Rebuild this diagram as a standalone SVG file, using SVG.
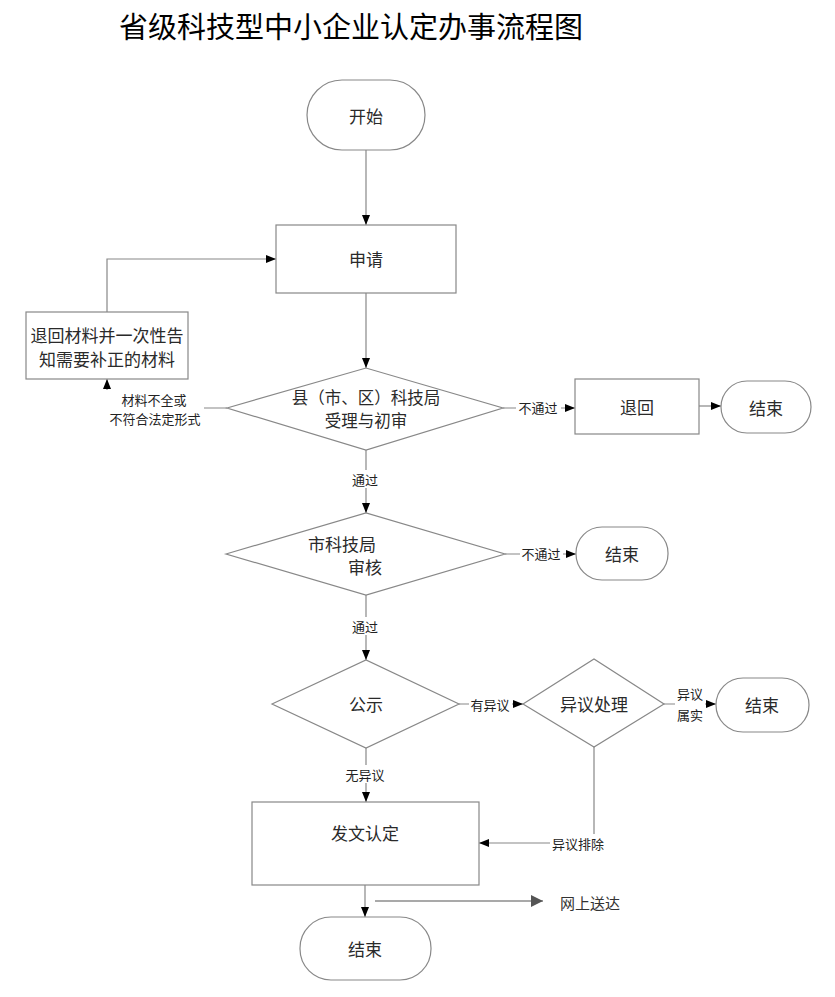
<svg xmlns="http://www.w3.org/2000/svg" width="835" height="997" viewBox="0 0 835 997">
  <defs>
    <marker id="arr" viewBox="0 0 10 10" refX="10" refY="5" markerWidth="10" markerHeight="10" markerUnits="userSpaceOnUse" orient="auto">
      <path d="M0,1 L10,5 L0,9 z" fill="#000"/>
    </marker>
    <marker id="arrBig" viewBox="0 0 12 12" refX="12" refY="6" markerWidth="12" markerHeight="12" markerUnits="userSpaceOnUse" orient="auto">
      <path d="M0,0 L12,6 L0,12 z" fill="#555"/>
    </marker>
    <style>
      .shape { fill: #fff; stroke: #888; stroke-width: 1.2; }
      .line { fill: none; stroke: #888; stroke-width: 1.2; marker-end: url(#arr); }
      .txt { font-family: "Noto Sans CJK SC", "Liberation Sans", sans-serif; font-size: 17px; fill: #2a2a2a; text-anchor: middle; dominant-baseline: central; }
      .lbl { font-family: "Noto Sans CJK SC", "Liberation Sans", sans-serif; font-size: 13px; fill: #222; text-anchor: middle; dominant-baseline: central; }
      .bg { fill: #fff; stroke: none; }
      .title { font-family: "Noto Sans CJK SC", "Liberation Sans", sans-serif; font-size: 29px; fill: #000; dominant-baseline: central; }
    </style>
  </defs>
  <rect width="835" height="997" fill="#fff"/>
  <text class="title" x="119" y="25">省级科技型中小企业认定办事流程图</text>

  <g id="connectors">
    <path class="line" d="M366,150 V225"/>
    <path class="line" d="M366,293 V368"/>
    <path class="line" d="M503,408 H575"/>
    <rect class="bg" x="516" y="399" width="45" height="17"/>
    <text class="lbl" x="538" y="407">不通过</text>
    <path class="line" d="M699,406 H721"/>
    <path class="line" d="M227,408 H107 V379"/>
    <rect class="bg" x="99" y="390" width="105" height="38"/>
    <text class="lbl" x="154" y="399">材料不全或</text>
    <text class="lbl" x="155" y="418">不符合法定形式</text>
    <path class="line" d="M107,312 V259 H276"/>
    <path class="line" d="M366,450 V513"/>
    <rect class="bg" x="350" y="470" width="30" height="18"/>
    <text class="lbl" x="365" y="479">通过</text>
    <path class="line" d="M505,554 H576"/>
    <rect class="bg" x="520" y="545" width="43" height="17"/>
    <text class="lbl" x="541" y="553">不通过</text>
    <path class="line" d="M366,595 V660"/>
    <rect class="bg" x="350" y="617" width="30" height="18"/>
    <text class="lbl" x="365" y="626">通过</text>
    <path class="line" d="M459,704 H523"/>
    <rect class="bg" x="469" y="695" width="43" height="18"/>
    <text class="lbl" x="490" y="704">有异议</text>
    <path class="line" d="M664,704 H716"/>
    <rect class="bg" x="675" y="684" width="30" height="40"/>
    <text class="lbl" x="690" y="693">异议</text>
    <text class="lbl" x="690" y="714">属实</text>
    <path class="line" d="M366,748 V802"/>
    <rect class="bg" x="344" y="765" width="43" height="18"/>
    <text class="lbl" x="365" y="774">无异议</text>
    <path class="line" d="M594,747 V843 H479"/>
    <rect class="bg" x="550" y="834" width="57" height="18"/>
    <text class="lbl" x="578" y="843">异议排除</text>
    <path class="line" d="M365,885 V917"/>
    <path d="M375,901 H543" fill="none" stroke="#555" stroke-width="1.2" marker-end="url(#arrBig)"/>
    <text x="590" y="902" font-family="Noto Sans CJK SC, Liberation Sans, sans-serif" font-size="15" fill="#333" text-anchor="middle" dominant-baseline="central">网上送达</text>
  </g>

  <g id="start">
    <rect class="shape" x="307" y="80" width="118" height="70" rx="35"/>
    <text class="txt" x="366" y="115">开始</text>
  </g>
  <g id="apply">
    <rect class="shape" x="276" y="225" width="180" height="68"/>
    <text class="txt" x="366" y="258">申请</text>
  </g>
  <g id="return-materials">
    <rect class="shape" x="26" y="312" width="162" height="67"/>
    <text class="txt" x="107" y="334">退回材料并一次性告</text>
    <text class="txt" x="107" y="358">知需要补正的材料</text>
  </g>
  <g id="county-review">
    <polygon class="shape" points="227,408 366,368 503,408 366,450"/>
    <text class="txt" x="366" y="397" style="font-size:16.5px">县（市、区）科技局</text>
    <text class="txt" x="366" y="420" style="font-size:16.5px">受理与初审</text>
  </g>
  <g id="return">
    <rect class="shape" x="575" y="379" width="124" height="55"/>
    <text class="txt" x="637" y="406">退回</text>
  </g>
  <g id="end1">
    <rect class="shape" x="721" y="381" width="90" height="52" rx="26"/>
    <text class="txt" x="766" y="407">结束</text>
  </g>
  <g id="city-review">
    <polygon class="shape" points="226,554 366,513 505,554 366,595"/>
    <text class="txt" x="342" y="543">市科技局</text>
    <text class="txt" x="365" y="566">审核</text>
  </g>
  <g id="end2">
    <rect class="shape" x="576" y="527" width="92" height="53" rx="26"/>
    <text class="txt" x="622" y="553">结束</text>
  </g>
  <g id="publicity">
    <polygon class="shape" points="272,704 366,660 459,704 366,748"/>
    <text class="txt" x="366" y="703">公示</text>
  </g>
  <g id="objection">
    <polygon class="shape" points="523,704 594,659 664,704 594,747"/>
    <text class="txt" x="594" y="703">异议处理</text>
  </g>
  <g id="end3">
    <rect class="shape" x="716" y="678" width="93" height="54" rx="27"/>
    <text class="txt" x="762" y="704">结束</text>
  </g>
  <g id="issue">
    <rect class="shape" x="252" y="802" width="227" height="83"/>
    <text class="txt" x="365" y="832">发文认定</text>
  </g>
  <g id="end4">
    <rect class="shape" x="300" y="917" width="131" height="63" rx="31"/>
    <text class="txt" x="365" y="948">结束</text>
  </g>
</svg>
